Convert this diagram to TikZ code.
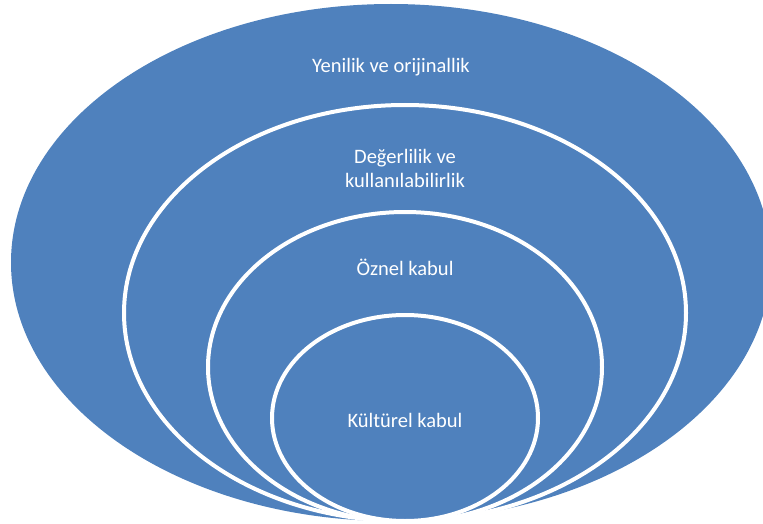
\documentclass[tikz,border=0pt]{standalone}
\usepackage{fontspec}
\newfontfamily\labelfont{Carlito}
\definecolor{ringblue}{RGB}{79,129,189}
\begin{document}
\begin{tikzpicture}[x=1pt,y=-1pt,
  ring/.style={fill=ringblue,draw=white,line width=4pt},
  ringlabel/.style={text=white,inner sep=0pt,anchor=base,align=center,
    font=\labelfont\fontsize{20.5}{24}\selectfont}]
\useasboundingbox (0,0) rectangle (763,524);
\clip (0,0) rectangle (763,524);
% nested rings, all touching at the bottom
\fill[ringblue] (391,262.5) ellipse [x radius=380, y radius=258.5];
\path[ring] (405,313) ellipse [x radius=281, y radius=208];
\path[ring] (405,367) ellipse [x radius=197, y radius=155];
\path[ring] (405,418) ellipse [x radius=133, y radius=103];
% labels (a two-line label sits on the baseline of its last line)
\node[ringlabel] (yenilik) at (391,73) {Yenilik ve orijinallik};
\node[ringlabel] (deger) at (405,187) {Değerlilik ve\\kullanılabilirlik};
\node[ringlabel] (oznel) at (405,275) {Öznel kabul};
\node[ringlabel] (kultur) at (405,427) {Kültürel kabul};
\end{tikzpicture}
\end{document}
